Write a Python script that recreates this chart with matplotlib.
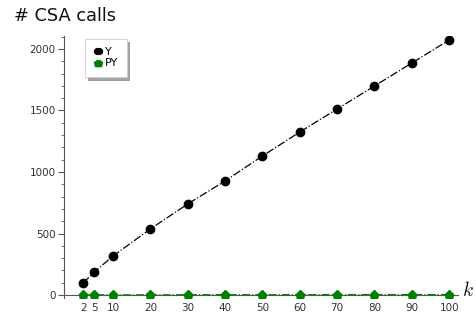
import matplotlib
matplotlib.use("Agg")
import matplotlib.pyplot as plt
from matplotlib.ticker import MultipleLocator

# Number of CSA calls as a function of k
k_values = [2, 5, 10, 20, 30, 40, 50, 60, 70, 80, 90, 100]
y_calls = [98, 187, 317, 537, 740, 927, 1130, 1325, 1512, 1699, 1886, 2073]
py_calls = [2, 2, 2, 2, 3, 3, 3, 3, 4, 4, 4, 4]
x_tick_labels = ["2", "5", "10", "20", "30", "40", "50", "60", "70", "80", "90", "100"]
y_ticks = [0, 500, 1000, 1500, 2000]

plt.rcParams["mathtext.fontset"] = "cm"

fig = plt.figure(figsize=(4.76, 3.2), dpi=100)
ax = fig.add_axes([0.1345, 0.0703, 0.828, 0.817])

ax.plot(k_values, y_calls, color="black", linestyle="-.", linewidth=0.9,
        marker="o", markersize=6, label="Y", zorder=3)
ax.plot(k_values, py_calls, color="green", linestyle="-.", linewidth=0.9,
        marker="p", markersize=6.5, label="PY", zorder=4)

ax.set_xlim(-3.1, 102.4)
ax.set_ylim(-20, 2105)

for side in ("top", "right"):
    ax.spines[side].set_visible(False)
ax.spines["bottom"].set_position(("data", 0))
for side in ("left", "bottom"):
    ax.spines[side].set_color("#555555")
    ax.spines[side].set_linewidth(0.8)

ax.set_xticks(k_values)
ax.set_xticklabels(x_tick_labels)
ax.set_yticks(y_ticks)
ax.yaxis.set_minor_locator(MultipleLocator(100))
ax.tick_params(axis="x", length=0, pad=6, labelsize=7.5, labelcolor="#333333")
ax.tick_params(axis="y", which="major", length=4, width=0.8, color="#555555",
               labelsize=7.5, labelcolor="#333333", pad=2)
ax.tick_params(axis="y", which="minor", length=2, width=0.6, color="#555555")

fig.text(14 / 476, 1 - 16 / 320, "# CSA calls", fontsize=12.8, color="#111111",
         ha="left", va="center")
fig.text(0.983, 0.093, "$k$", fontsize=14, color="#111111",
         ha="center", va="center")

leg = ax.legend(loc="upper left", bbox_to_anchor=(85 / 476, 1 - 39 / 320),
                bbox_transform=fig.transFigure, numpoints=2, markerscale=0.7,
                handlelength=0.85, handletextpad=0.2, borderpad=0.75,
                labelspacing=0.1, fontsize=8, frameon=True, shadow=True,
                fancybox=False, borderaxespad=0)
leg.get_frame().set_edgecolor("#cccccc")
leg.get_frame().set_linewidth(0.6)
for h in leg.get_lines():
    h.set_linestyle("none")

fig.savefig("out.png", dpi=100)
